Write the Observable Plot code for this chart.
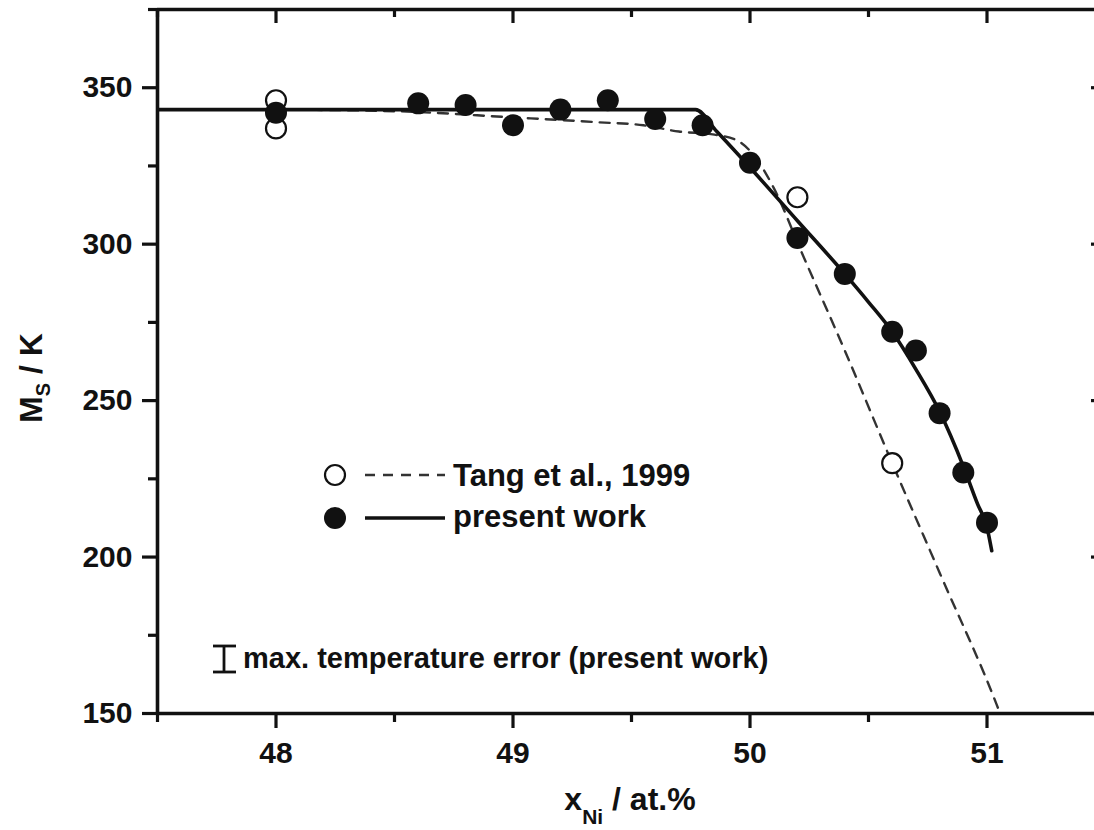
<!DOCTYPE html>
<html>
<head>
<meta charset="utf-8">
<script src="https://cdn.jsdelivr.net/npm/d3@7"></script>
<script src="https://cdn.jsdelivr.net/npm/@observablehq/plot@0.6"></script>
<style>
  html, body { margin: 0; padding: 0; background: #fff; overflow: hidden; }
  #wrap { position: relative; width: 1094px; height: 830px; overflow: hidden; }
  #wrap svg { max-width: none !important; }
  #wrap svg.overlay { position: absolute; left: 0; top: 0; pointer-events: none; }
  text { font-family: 'Liberation Sans', Arial, Helvetica, sans-serif; font-weight: bold; }
</style>
</head>
<body>
<div id="wrap"></div>
<script>
// ---- data ----
const xMajor = [48, 49, 50, 51];
const xMinor = [47.5, 48.5, 49.5, 50.5, 51.5];
const yMajor = [150, 200, 250, 300, 350];
const yMinor = [175, 225, 275, 325, 375];

// present work (filled circles)
const presentX = [48, 48.6, 48.8, 49.0, 49.2, 49.4, 49.6, 49.8, 50.0, 50.2, 50.4, 50.6, 50.7, 50.8, 50.9, 51.0];
const presentY = [342, 345, 344.5, 338, 343, 346, 340, 338, 326, 302, 290.5, 272, 266, 246, 227, 211];

// Tang et al., 1999 (open circles)
const tangX = [48, 48, 50.2, 50.6];
const tangY = [346, 337, 315, 230];

// present work fit (solid)
const fitX = [47.5, 49.77, 49.86, 50.0, 50.2, 50.4, 50.5, 50.6, 50.7, 50.8, 50.9, 50.96, 51.0, 51.02];
const fitY = [343, 343, 336, 324.5, 307.5, 290.5, 281.5, 272, 260, 246.5, 229, 217, 209.5, 202];

// Tang fit (dashed)
const tangFitX = [48.0, 48.5, 49.0, 49.35, 49.55, 49.7, 49.85, 49.95, 50.02, 50.1, 50.22, 50.4, 50.6, 50.8, 51.04, 51.1];
const tangFitY = [343, 342.5, 340.5, 339, 338, 336, 335, 333, 328, 318, 297, 266, 230, 195, 153, 141];

const legendLabels = ["Tang et al., 1999", "present work"];
const errorNote = "max. temperature error (present work)";

// ---- tables ----
const present = presentX.map((x, i) => ({x, y: presentY[i]}));
const tang = tangX.map((x, i) => ({x, y: tangY[i]}));
const fit = fitX.map((x, i) => ({x, y: fitY[i]}));
const tangFit = tangFitX.map((x, i) => ({x, y: tangFitY[i]}));

const W = 1107, H = 830, mL = 157, mR = 2, mT = 9, mB = 117;
const pw = W - mL - mR, ph = H - mT - mB;
const ink = "#111";

const chart = Plot.plot({
  width: W, height: H,
  marginLeft: mL, marginRight: mR, marginTop: mT, marginBottom: mB,
  x: {domain: [47.5, 51.5]},
  y: {domain: [150, 375]},
  style: {fontFamily: "'Liberation Sans', Arial, sans-serif", color: ink, background: "#fff", overflow: "visible", maxWidth: "none"},
  marks: [
    Plot.axisX(xMajor, {anchor: "bottom", tickSize: 15, tickPadding: 13, stroke: ink, strokeWidth: 3.2, fontSize: 30, fontWeight: "bold", tickFormat: d3.format("d"), label: null}),
    Plot.axisX(xMinor, {anchor: "bottom", tickSize: 9, stroke: ink, strokeWidth: 3.2, tickFormat: () => "", label: null}),
    Plot.axisY(yMajor, {anchor: "left", tickSize: 15, tickPadding: 10, stroke: ink, strokeWidth: 3.2, fontSize: 30, fontWeight: "bold", tickFormat: d3.format("d"), label: null}),
    Plot.axisY(yMinor, {anchor: "left", tickSize: 9, stroke: ink, strokeWidth: 3.2, tickFormat: () => "", label: null}),
    // inward ticks on top and right
    Plot.tickX(xMajor, {x: d => d, insetBottom: ph - 14, strokeWidth: 3.2, stroke: ink}),
    Plot.tickX(xMinor, {x: d => d, insetBottom: ph - 8, strokeWidth: 3.2, stroke: ink}),
    Plot.tickY(yMajor, {y: d => d, insetLeft: pw - 14, strokeWidth: 3.2, stroke: ink}),
    Plot.tickY(yMinor, {y: d => d, insetLeft: pw - 8, strokeWidth: 3.2, stroke: ink}),
    Plot.line(tangFit, {x: "x", y: "y", curve: "monotone-x", stroke: "#333", strokeWidth: 2.4, strokeDasharray: "10,8", clip: true}),
    Plot.line(fit, {x: "x", y: "y", curve: "monotone-x", stroke: ink, strokeWidth: 3.6, clip: true}),
    Plot.dot(tang, {x: "x", y: "y", r: 10, stroke: ink, strokeWidth: 2.2, fill: "#fff"}),
    Plot.dot(present, {x: "x", y: "y", r: 11, fill: ink, stroke: "none"}),
    Plot.ruleY([150, 375], {stroke: ink, strokeWidth: 3.6}),
    Plot.ruleX([47.5, 51.5], {stroke: ink, strokeWidth: 3.6})
  ]
});

const wrap = document.getElementById("wrap");
wrap.appendChild(chart);

// ---- overlay: axis titles, legend, error note ----
const ns = "http://www.w3.org/2000/svg";
const ov = d3.select(wrap).append("svg").attr("class", "overlay")
  .attr("width", 1094).attr("height", 830).attr("xmlns", ns);

// y title: M_S / K
const yt = ov.append("text").attr("transform", "translate(42,378) rotate(-90)")
  .attr("text-anchor", "middle").attr("font-size", 32).attr("fill", ink);
yt.append("tspan").text("M");
yt.append("tspan").attr("font-size", 20).attr("dy", 8).text("S");
yt.append("tspan").attr("dy", -8).text(" / K");

// x title: x_Ni / at.%
const xt = ov.append("text").attr("x", 630).attr("y", 810)
  .attr("text-anchor", "middle").attr("font-size", 32).attr("fill", ink);
xt.append("tspan").text("x");
xt.append("tspan").attr("font-size", 21).attr("dy", 14).text("Ni");
xt.append("tspan").attr("dy", -14).text(" / at.%");

// legend
const lg = ov.append("g");
lg.append("circle").attr("cx", 335).attr("cy", 475).attr("r", 10)
  .attr("fill", "#fff").attr("stroke", ink).attr("stroke-width", 2.2);
lg.append("line").attr("x1", 365).attr("x2", 445).attr("y1", 475).attr("y2", 475)
  .attr("stroke", "#333").attr("stroke-width", 2.4).attr("stroke-dasharray", "10,8");
lg.append("text").attr("x", 453).attr("y", 486).attr("font-size", 31).attr("fill", ink).text(legendLabels[0]);
lg.append("circle").attr("cx", 335).attr("cy", 518).attr("r", 11).attr("fill", ink);
lg.append("line").attr("x1", 365).attr("x2", 445).attr("y1", 518).attr("y2", 518)
  .attr("stroke", ink).attr("stroke-width", 3.6);
lg.append("text").attr("x", 453).attr("y", 527).attr("font-size", 31).attr("fill", ink).text(legendLabels[1]);

// error-bar note
const eb = ov.append("g").attr("stroke", ink).attr("stroke-width", 2.8);
eb.append("line").attr("x1", 224).attr("x2", 224).attr("y1", 646).attr("y2", 672);
eb.append("line").attr("x1", 213).attr("x2", 236).attr("y1", 646).attr("y2", 646);
eb.append("line").attr("x1", 213).attr("x2", 236).attr("y1", 672).attr("y2", 672);
ov.append("text").attr("x", 243).attr("y", 668).attr("font-size", 29).attr("fill", ink).text(errorNote);
</script>
</body>
</html>
